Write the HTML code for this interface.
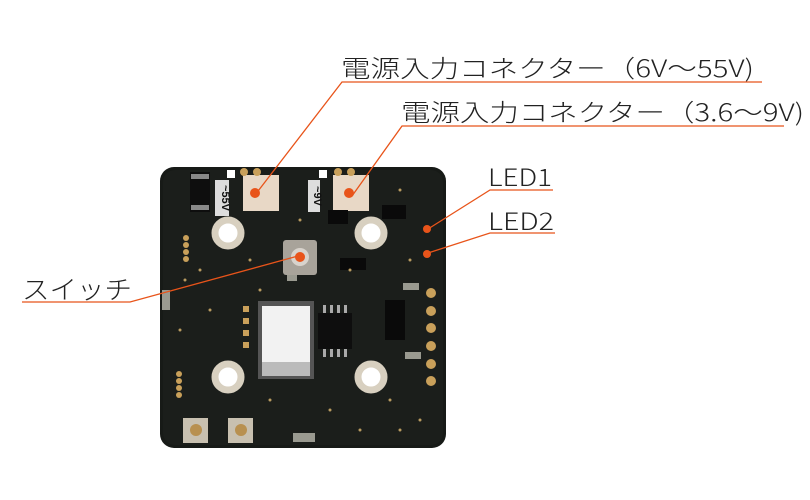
<!DOCTYPE html>
<html><head><meta charset="utf-8"><style>
html,body{margin:0;padding:0;background:#fff;}
svg{display:block}
</style></head><body>
<svg width="810" height="500" viewBox="0 0 810 500" xmlns="http://www.w3.org/2000/svg">
<g font-family="'Noto Sans CJK JP','Liberation Sans',sans-serif" font-weight="300" fill="#222">
<text x="341" y="77" font-size="24" textLength="413" lengthAdjust="spacingAndGlyphs">電源入力コネクター（6V～55V)</text>
<text x="401" y="121" font-size="24" textLength="403" lengthAdjust="spacingAndGlyphs">電源入力コネクター（3.6～9V)</text>
<text x="488" y="186" font-size="24" textLength="64" lengthAdjust="spacingAndGlyphs">LED1</text>
<text x="488" y="230" font-size="24" textLength="66" lengthAdjust="spacingAndGlyphs">LED2</text>
<text x="22" y="299" font-size="26" textLength="110" lengthAdjust="spacingAndGlyphs">スイッチ</text>
</g>
<!-- board -->
<rect x="160" y="167" width="286" height="281" rx="14" fill="#171a17"/>
<rect x="163" y="170" width="280" height="275" rx="12" fill="#1b1e1b"/>
<!-- diode -->
<rect x="190" y="172" width="20" height="40" fill="#0e0e0e"/><rect x="191" y="174" width="18" height="5" fill="#888"/><rect x="191" y="205" width="18" height="5" fill="#888"/>
<!-- connectors -->
<rect x="243" y="175" width="36" height="36" fill="#e8d8c6"/>
<rect x="333" y="175" width="36" height="36" fill="#e8d8c6"/>
<rect x="227" y="170" width="8" height="8" fill="#fff"/><rect x="319" y="170" width="8" height="8" fill="#fff"/>
<rect x="215" y="180" width="14" height="36" fill="#ddd"/><rect x="308" y="180" width="12" height="32" fill="#ddd"/>
<text x="222" y="198" font-size="11" font-family="'Liberation Sans',sans-serif" font-weight="bold" fill="#111" transform="rotate(90 222 198)" text-anchor="middle">~55V</text>
<text x="314" y="196" font-size="11" font-family="'Liberation Sans',sans-serif" font-weight="bold" fill="#111" transform="rotate(90 314 196)" text-anchor="middle">~9V</text>
<circle cx="244" cy="172" r="4" fill="#c9a05a"/><circle cx="257" cy="172" r="4" fill="#c9a05a"/>
<circle cx="338" cy="172" r="4" fill="#c9a05a"/><circle cx="351" cy="172" r="4" fill="#c9a05a"/>
<!-- holes -->
<g fill="#fff" stroke="#d8d0c0" stroke-width="7">
<circle cx="228" cy="233" r="13"/><circle cx="371" cy="233" r="13"/>
<circle cx="228" cy="377" r="13"/><circle cx="371" cy="377" r="13"/>
</g>
<!-- switch -->
<rect x="283" y="240" width="34" height="35" rx="3" fill="#a8a39a"/>
<circle cx="300" cy="257" r="9" fill="#d8d3cc"/>
<!-- GPS module -->
<rect x="258" y="301" width="56" height="78" fill="#555"/>
<rect x="262" y="306" width="48" height="56" fill="#f2f2f2"/>
<rect x="262" y="362" width="48" height="14" fill="#bbb"/>
<!-- chip -->
<rect x="318" y="313" width="34" height="36" fill="#0e0e0e"/>
<g fill="#aaa"><rect x="323" y="305" width="3" height="8"/><rect x="330" y="305" width="3" height="8"/><rect x="337" y="305" width="3" height="8"/><rect x="344" y="305" width="3" height="8"/>
<rect x="323" y="349" width="3" height="8"/><rect x="330" y="349" width="3" height="8"/><rect x="337" y="349" width="3" height="8"/><rect x="344" y="349" width="3" height="8"/></g>
<!-- small parts -->
<g fill="#0a0a0a"><rect x="328" y="210" width="20" height="14"/><rect x="382" y="205" width="24" height="14"/><rect x="385" y="300" width="20" height="40"/><rect x="340" y="258" width="26" height="12"/></g>
<!-- gold pads -->
<g fill="#c9a05a"><circle cx="431" cy="293" r="5"/><circle cx="431" cy="311" r="5"/><circle cx="431" cy="328" r="5"/><circle cx="431" cy="346" r="5"/><circle cx="431" cy="364" r="5"/><circle cx="431" cy="381" r="5"/>
<rect x="243" y="306" width="6" height="6"/><rect x="243" y="318" width="6" height="6"/><rect x="243" y="330" width="6" height="6"/><rect x="243" y="342" width="6" height="6"/>
<circle cx="186" cy="238" r="3"/><circle cx="186" cy="245" r="3"/><circle cx="186" cy="252" r="3"/><circle cx="186" cy="259" r="3"/>
<circle cx="179" cy="374" r="3"/><circle cx="179" cy="381" r="3"/><circle cx="179" cy="388" r="3"/><circle cx="179" cy="395" r="3"/></g>
<g fill="#9a9a90"><rect x="403" y="283" width="16" height="7"/><rect x="405" y="352" width="16" height="7"/><rect x="293" y="433" width="22" height="9"/><rect x="162" y="290" width="8" height="20"/><rect x="287" y="275" width="10" height="6"/></g>
<!-- antenna -->
<rect x="183" y="418" width="25" height="25" fill="#c8c0b0"/><circle cx="196" cy="430" r="6" fill="#b89050"/>
<rect x="228" y="418" width="25" height="25" fill="#c8c0b0"/><circle cx="241" cy="430" r="6" fill="#b89050"/>
<!-- dots -->
<g fill="#b89a60">
<circle cx="185" cy="280" r="1.5"/><circle cx="200" cy="270" r="1.5"/><circle cx="260" cy="290" r="1.5"/><circle cx="400" cy="190" r="1.5"/><circle cx="410" cy="260" r="1.5"/><circle cx="390" cy="400" r="1.5"/><circle cx="330" cy="410" r="1.5"/><circle cx="270" cy="400" r="1.5"/><circle cx="180" cy="330" r="1.5"/><circle cx="210" cy="310" r="1.5"/><circle cx="420" cy="420" r="1.5"/><circle cx="350" cy="270" r="1.5"/><circle cx="300" cy="220" r="1.5"/><circle cx="250" cy="260" r="1.5"/><circle cx="400" cy="430" r="1.5"/><circle cx="360" cy="430" r="1.5"/>
</g>
<!-- leaders -->
<g stroke="#e8541a" stroke-width="1.3" fill="none">
<polyline points="762,82 342,82 255,195"/>
<polyline points="784,126 402,126 352,196"/>
<polyline points="553,190 490,190 428,229"/>
<polyline points="555,233 490,233 428,253"/>
<polyline points="22,302 130,302 298,256"/>
</g>
<g fill="#e8541a">
<circle cx="255" cy="193" r="5"/><circle cx="349" cy="193" r="5"/><circle cx="300" cy="257" r="5"/><circle cx="427" cy="229" r="4"/><circle cx="427" cy="254" r="4"/>
</g>
</svg>
</body></html>
